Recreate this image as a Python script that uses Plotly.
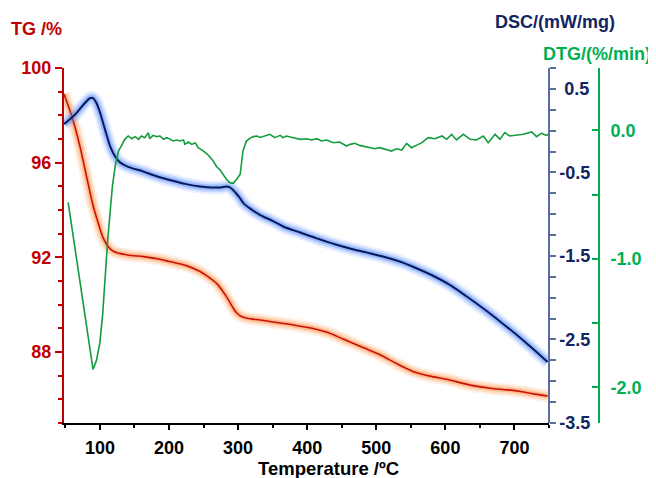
import plotly.graph_objects as go

# ---------------- data ----------------
tg_temp = [48, 60, 71, 80, 90, 97, 105, 112, 120, 140, 163, 185, 201, 225, 245, 258, 269, 277, 284, 291,
           298, 305, 313, 332, 350, 380, 410, 430, 452, 480, 506, 530, 554, 578, 602, 636, 665, 690, 709, 730, 748]
tg_val = [98.9, 97.9, 96.7, 95.5, 94.2, 93.5, 92.8, 92.45, 92.25, 92.1, 92.03, 91.93, 91.82, 91.65, 91.4, 91.15,
          90.9, 90.6, 90.3, 89.95, 89.65, 89.5, 89.43, 89.35, 89.27, 89.14, 88.98, 88.82, 88.55, 88.2, 87.87,
          87.5, 87.17, 86.98, 86.85, 86.6, 86.47, 86.4, 86.33, 86.22, 86.14]

dsc_temp = [48, 57, 66, 76, 85, 90, 95, 100, 105, 110, 115, 122, 129, 140, 163, 180, 201, 225, 245, 260, 275,
            284, 290, 296, 302, 308, 317, 332, 350, 366, 390, 414, 440, 462, 487, 511, 535, 559, 583, 607, 630,
            655, 680, 704, 725, 748]
dsc_val = [0.08, 0.14, 0.21, 0.31, 0.385, 0.39, 0.33, 0.22, 0.08, -0.06, -0.19, -0.31, -0.38, -0.43, -0.49,
           -0.54, -0.59, -0.64, -0.67, -0.68, -0.68, -0.67, -0.69, -0.74, -0.80, -0.87, -0.93, -1.01, -1.08,
           -1.15, -1.22, -1.29, -1.36, -1.41, -1.46, -1.51, -1.57, -1.65, -1.74, -1.85, -1.98, -2.13, -2.29,
           -2.45, -2.60, -2.77]

dtg_temp = [54, 60, 66, 72, 78, 84, 90, 95, 100, 104, 107, 111, 115, 118, 122, 127, 131, 136, 141, 146, 151,
            156, 160, 165, 170, 172, 177, 182, 187, 192, 197, 201, 206, 211, 216, 221, 223, 228, 233, 238, 242,
            250, 257, 264, 269, 274, 279, 283, 288, 293, 298, 303, 305, 307, 312, 317, 322, 327, 332, 336, 346,
            353, 361, 365, 370, 380, 390, 399, 406, 414, 421, 428, 438, 447, 457, 462, 469, 476, 484, 491, 498,
            505, 515, 522, 529, 537, 544, 551, 558, 566, 575, 585, 595, 602, 609, 616, 626, 636, 645, 655, 662,
            672, 679, 686, 693, 703, 713, 725, 732, 739, 746, 750]
dtg_val = [-0.56, -0.78, -1.00, -1.21, -1.42, -1.64, -1.86, -1.79, -1.65, -1.43, -1.16, -0.87, -0.62, -0.44,
           -0.28, -0.16, -0.12, -0.07, -0.044, -0.065, -0.049, -0.07, -0.044, -0.057, -0.018, -0.065, -0.039,
           -0.049, -0.044, -0.07, -0.057, -0.07, -0.083, -0.075, -0.083, -0.075, -0.109, -0.091, -0.109, -0.096,
           -0.135, -0.161, -0.194, -0.239, -0.283, -0.309, -0.355, -0.381, -0.407, -0.412, -0.381, -0.342,
           -0.252, -0.161, -0.083, -0.062, -0.049, -0.044, -0.055, -0.049, -0.031, -0.057, -0.039, -0.057,
           -0.044, -0.057, -0.070, -0.065, -0.075, -0.065, -0.083, -0.075, -0.096, -0.091, -0.122, -0.109,
           -0.101, -0.117, -0.127, -0.135, -0.143, -0.135, -0.148, -0.161, -0.143, -0.153, -0.101, -0.135,
           -0.117, -0.096, -0.057, -0.065, -0.044, -0.070, -0.031, -0.075, -0.031, -0.070, -0.075, -0.044,
           -0.096, -0.031, -0.070, -0.018, -0.044, -0.039, -0.031, -0.013, -0.049, -0.023, -0.039, -0.030]

x_ticks = [100, 200, 300, 400, 500, 600, 700]
tg_ticks = [88, 92, 96, 100]
dsc_tickvals = [0.5, -0.5, -1.5, -2.5, -3.5]
dsc_ticktext = ["\u00a00.5", "-0.5", "-1.5", "-2.5", "-3.5"]
dtg_tickvals = [0.0, -1.0, -2.0]
dtg_ticktext = ["0.0", "-1.0", "-2.0"]

# ---------------- style ----------------
RED = "#c00000"
NAVY = "#112562"
DSC_AXIS = "#5a6f9e"
GREEN = "#00b050"
FONT = "Liberation Sans, Arial, sans-serif"

OFF = 8  # page body margin offset
W, H = 656 - OFF, 478 - OFF
L, T = 64 - OFF, 68 - OFF
PLOT_BOTTOM = 423 - OFF
B = H - PLOT_BOTTOM
R = 36
pw = W - L - R
ph = H - T - B


def px_x(p):
    return (p - OFF - L) / pw


def px_y(p):
    return (PLOT_BOTTOM - (p - OFF)) / ph


fig = go.Figure()

# TG glow + line
for w, a in [(13, 0.12), (9, 0.22), (5, 0.4)]:
    fig.add_trace(go.Scatter(x=tg_temp, y=tg_val, mode="lines", yaxis="y",
                             line=dict(color=f"rgba(255,140,60,{a})", width=w, shape="spline", smoothing=0.8),
                             hoverinfo="skip", showlegend=False))
fig.add_trace(go.Scatter(x=tg_temp, y=tg_val, mode="lines", yaxis="y", name="TG",
                         line=dict(color="#c8100c", width=1.6, shape="spline", smoothing=0.8), showlegend=False))

# DSC glow + line
for w, a in [(14, 0.11), (10, 0.2), (6, 0.36)]:
    fig.add_trace(go.Scatter(x=dsc_temp, y=dsc_val, mode="lines", yaxis="y2",
                             line=dict(color=f"rgba(70,130,255,{a})", width=w, shape="spline", smoothing=0.8),
                             hoverinfo="skip", showlegend=False))
fig.add_trace(go.Scatter(x=dsc_temp, y=dsc_val, mode="lines", yaxis="y2", name="DSC",
                         line=dict(color="#08195a", width=2, shape="spline", smoothing=0.8), showlegend=False))

# DTG
fig.add_trace(go.Scatter(x=dtg_temp, y=dtg_val, mode="lines", yaxis="y3", name="DTG",
                         line=dict(color="#139c3c", width=1.6), showlegend=False))

xdom_end = px_x(549)
TICK_SIZE = 18

fig.update_layout(
    width=W, height=H,
    margin=dict(l=L, r=R, t=T, b=B),
    paper_bgcolor="white", plot_bgcolor="white",
    font=dict(family=FONT),
    xaxis=dict(domain=[0, xdom_end], range=[48, 750], showgrid=False, zeroline=False,
               showline=True, linecolor="black", linewidth=2,
               tickmode="array", tickvals=x_ticks, ticks="outside", ticklen=5, tickwidth=2, tickcolor="black",
               minor=dict(dtick=50, tick0=50, ticks="outside", ticklen=3, tickwidth=2, tickcolor="black"),
               tickfont=dict(size=TICK_SIZE, color="black", weight="bold", family=FONT), ticklabelstandoff=2),
    yaxis=dict(range=[85, 100], showgrid=False, zeroline=False,
               showline=True, linecolor=RED, linewidth=2,
               tickmode="array", tickvals=tg_ticks, ticks="outside", ticklen=7, tickwidth=2, tickcolor=RED,
               minor=dict(dtick=1, tick0=85, ticks="outside", ticklen=4, tickwidth=2, tickcolor=RED),
               tickfont=dict(size=TICK_SIZE, color=RED, weight="bold", family=FONT)),
    yaxis2=dict(range=[-3.5, 0.75], overlaying="y", side="right", anchor="free", position=xdom_end,
                showgrid=False, zeroline=False, showline=True, linecolor=DSC_AXIS, linewidth=1.5,
                tickmode="array", tickvals=dsc_tickvals, ticktext=dsc_ticktext,
                ticks="outside", ticklen=6, tickwidth=1.5, tickcolor=DSC_AXIS,
                minor=dict(dtick=0.25, tick0=0.5, ticks="outside", ticklen=6, tickwidth=1.5, tickcolor=DSC_AXIS),
                tickfont=dict(size=TICK_SIZE, color=NAVY, weight="bold", family=FONT)),
    yaxis3=dict(range=[-2.277, 0.485], overlaying="y", side="right", anchor="free", position=px_x(599),
                showgrid=False, zeroline=False, showline=True, linecolor=GREEN, linewidth=2,
                tickmode="array", tickvals=dtg_tickvals, ticktext=dtg_ticktext,
                ticks="inside", ticklen=6, tickwidth=2, tickcolor=GREEN,
                minor=dict(dtick=0.5, tick0=0, ticks="inside", ticklen=6, tickwidth=2, tickcolor=GREEN),
                tickfont=dict(size=TICK_SIZE, color=GREEN, weight="bold", family=FONT), ticklabelstandoff=7),
    annotations=[
        dict(text="TG /%", x=px_x(36), y=px_y(29), xref="paper", yref="paper", showarrow=False,
             xanchor="center", yanchor="middle", font=dict(size=18, color=RED, weight="bold", family=FONT)),
        dict(text="DSC/(mW/mg)", x=px_x(555), y=px_y(22), xref="paper", yref="paper", showarrow=False,
             xanchor="center", yanchor="middle", font=dict(size=18, color=NAVY, weight="bold", family=FONT)),
        dict(text="DTG/(%/min)", x=px_x(597), y=px_y(54), xref="paper", yref="paper", showarrow=False,
             xanchor="center", yanchor="middle", font=dict(size=18, color=GREEN, weight="bold", family=FONT)),
        dict(text="Temperature /ºC", x=px_x(328), y=px_y(468), xref="paper", yref="paper", showarrow=False,
             xanchor="center", yanchor="middle", font=dict(size=18.5, color="black", weight="bold", family=FONT)),
    ],
)

fig.write_html("out.html")
